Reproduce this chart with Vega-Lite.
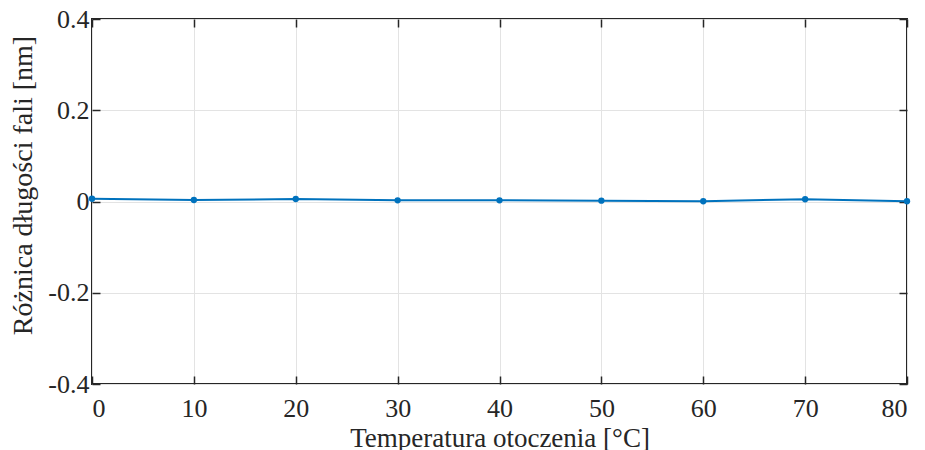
{
  "$schema": "https://vega.github.io/schema/vega-lite/v6.json",
  "width": 815,
  "height": 365,
  "autosize": {"type": "none"},
  "padding": {"left": 92, "top": 19, "right": 18, "bottom": 66},
  "background": "white",
  "config": {
    "font": "Liberation Serif",
    "view": {"stroke": "#262626", "strokeWidth": 2},
    "axis": {
      "labelFont": "Liberation Serif",
      "titleFont": "Liberation Serif",
      "labelFontSize": 26,
      "titleFontSize": 27,
      "labelColor": "#262626",
      "titleColor": "#262626",
      "titleFontWeight": "normal",
      "domain": false,
      "tickColor": "#262626",
      "tickSize": -8,
      "tickWidth": 1.5,
      "gridColor": "#e3e3e3",
      "gridWidth": 1
    }
  },
  "data": {
    "values": [
      {"t": 0, "d": 0.006},
      {"t": 10, "d": 0.0033},
      {"t": 20, "d": 0.0055},
      {"t": 30, "d": 0.0026},
      {"t": 40, "d": 0.0026},
      {"t": 50, "d": 0.0018},
      {"t": 60, "d": 0.0006},
      {"t": 70, "d": 0.005},
      {"t": 80, "d": 0.0006}
    ]
  },
  "layer": [
    {
      "mark": {"type": "line", "color": "#0072BD", "strokeWidth": 2, "point": {"filled": true, "size": 40, "color": "#0072BD"}},
      "encoding": {
        "x": {
          "field": "t", "type": "quantitative",
          "scale": {"domain": [0, 80], "nice": false},
          "axis": {"values": [0,10,20,30,40,50,60,70,80], "title": "Temperatura otoczenia [°C]", "labelFont": "Liberation Serif", "titleFont": "Liberation Serif", "labelFontSize": 26, "titleFontSize": 27, "labelPadding": 19, "titlePadding": 4, "labelAngle": 0}
        },
        "y": {
          "field": "d", "type": "quantitative",
          "scale": {"domain": [-0.4, 0.4], "nice": false, "zero": false},
          "axis": {"values": [-0.4,-0.2,0,0.2,0.4], "title": "Różnica długości fali [nm]", "labelFont": "Liberation Serif", "titleFont": "Liberation Serif", "labelFontSize": 26, "titleFontSize": 28, "labelPadding": 11, "titlePadding": 10, "titleY": 166, "labelExpr": "datum.value == 0 ? '0' : (datum.value < 0 ? '-' : '') + format(abs(datum.value), '.1f')"}
        }
      }
    },
    {
      "mark": {"type": "point", "opacity": 0},
      "encoding": {
        "x": {"field": "t", "type": "quantitative", "axis": {"orient": "top", "values": [0,10,20,30,40,50,60,70,80], "labels": false, "title": null, "grid": false}},
        "y": {"field": "d", "type": "quantitative", "axis": {"orient": "right", "values": [-0.4,-0.2,0,0.2,0.4], "labels": false, "title": null, "grid": false}}
      }
    }
  ],
  "resolve": {"axis": {"x": "independent", "y": "independent"}}
}
